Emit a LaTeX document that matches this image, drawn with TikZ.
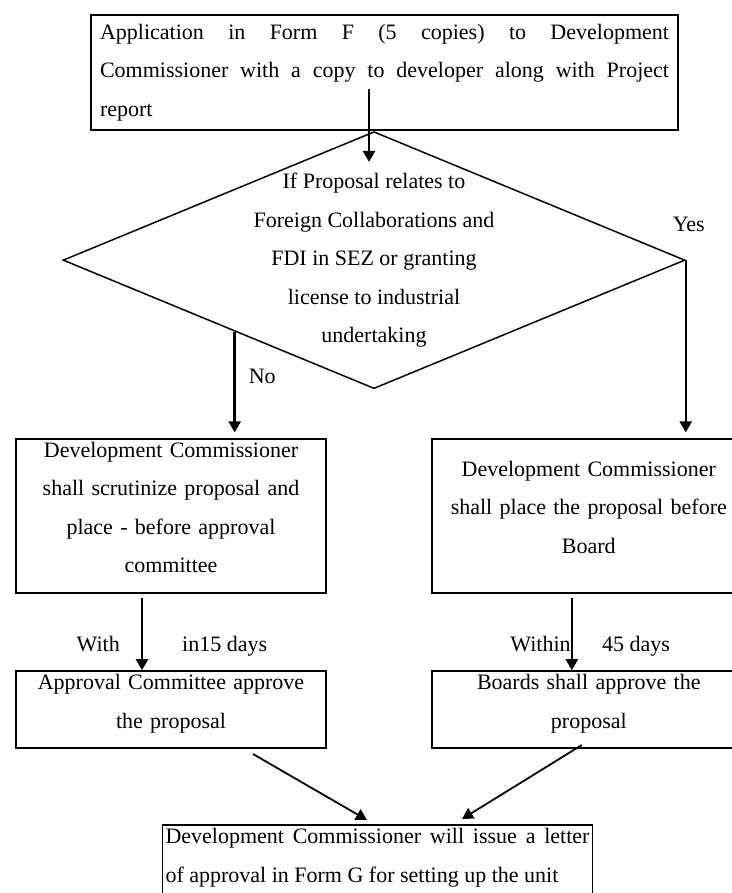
\documentclass[tikz,border=0pt]{standalone}
\usepackage{fontspec}
\setmainfont{Liberation Serif}
\usepackage{tikz}
\usetikzlibrary{shapes.geometric, arrows.meta, positioning, calc}

\begin{document}
\begin{tikzpicture}[
    txt/.style={font=\fontsize{11}{19.25}\selectfont},
    box/.style={draw, line width=0.9pt, txt, align=center, inner xsep=3pt, inner ysep=0pt},
    cond/.style={draw, diamond, line width=0.75pt, minimum width=311pt, minimum height=128.5pt, inner sep=0pt},
    lbl/.style={txt, inner sep=0pt},
    days/.style={lbl, text height=7.5pt, text depth=2.5pt},
    flow/.style={draw, line width=1.2pt, -{Triangle[length=5.5pt, width=6pt]}}
]
    \useasboundingbox (0,0) rectangle (366pt,-446.5pt);

    % Application and decision
    \node[box, align=justify, text width=284.5pt, inner xsep=4.5pt, minimum height=57.5pt] (app) at (192.25pt,-36.25pt) {Application in Form F (5 copies) to Development\linebreak Commissioner with a copy to developer along with Project\linebreak report};
    \node[cond, below=0pt of app, xshift=-5.25pt] (dia) {};
    \node[lbl, align=center] (query) at (dia) {If Proposal relates to\\Foreign Collaborations and\\FDI in SEZ or granting\\license to industrial\\undertaking};
    \node[lbl, above=14pt of dia.east, xshift=1.5pt] (yes) {Yes};

    % Branches
    \node[box, text width=149pt, minimum height=77pt, text depth=66.75pt, below=24.5pt of dia, xshift=-101.5pt] (scrut) {Development Commissioner\\shall scrutinize proposal and\\place - before approval\\committee};
    \node[box, text width=151pt, minimum height=77pt, text depth=47.5pt, right=52pt of scrut] (board) {Development Commissioner\\shall place the proposal before\\Board};
    \node[box, text width=149pt, minimum height=38.5pt, text depth=27.5pt, below=38pt of scrut] (apprv) {Approval Committee approve\\the proposal};
    \node[box, text width=151pt, minimum height=38.5pt, text depth=27.5pt, below=38pt of board] (brdok) {Boards shall approve the\\proposal};

    % Letter of approval
    \node[box, align=justify, text width=212pt, inner xsep=1.5pt, inner ysep=1.5pt, text height=8pt, text depth=40pt, below=37.5pt of apprv, xshift=103.25pt] (letter) {Development Commissioner will issue a letter\linebreak of approval in Form G for setting up the unit};

    % Paths
    \draw[flow] ([xshift=-7.75pt, yshift=21pt]app.south) -- ([xshift=-2.5pt, yshift=-15.5pt]dia.north);
    \coordinate (nofork) at ($(dia.west)!0.553!(dia.south)$);
    \draw[flow] (nofork) -- ([yshift=3pt]nofork |- scrut.north) node[lbl, pos=0.44, right=6.5pt] {No};
    \draw[flow] (dia.east) -- ([yshift=3pt]dia.east |- board.north);

    \draw[flow] ([xshift=-14.5pt, yshift=-2pt]scrut.south) -- ([xshift=-14.5pt]apprv.north)
        node[days, pos=0.67, left=10.5pt] {With} node[days, pos=0.67, right=19.5pt] {in15 days};
    \draw[flow] ([xshift=-8.5pt, yshift=-2pt]board.south) -- ([xshift=-8.5pt]brdok.north)
        node[days, pos=0.67, left=0pt] {Within} node[days, pos=0.67, right=14.5pt] {45 days};

    \draw[flow, line width=0.9pt] ([xshift=41pt, yshift=-2.5pt]apprv.south) -- ([xshift=-5.25pt, yshift=2pt]letter.north);
    \draw[flow, line width=0.9pt] ([xshift=-3.5pt, yshift=2pt]brdok.south) -- ([xshift=42.25pt, yshift=2.5pt]letter.north);
\end{tikzpicture}
\end{document}
